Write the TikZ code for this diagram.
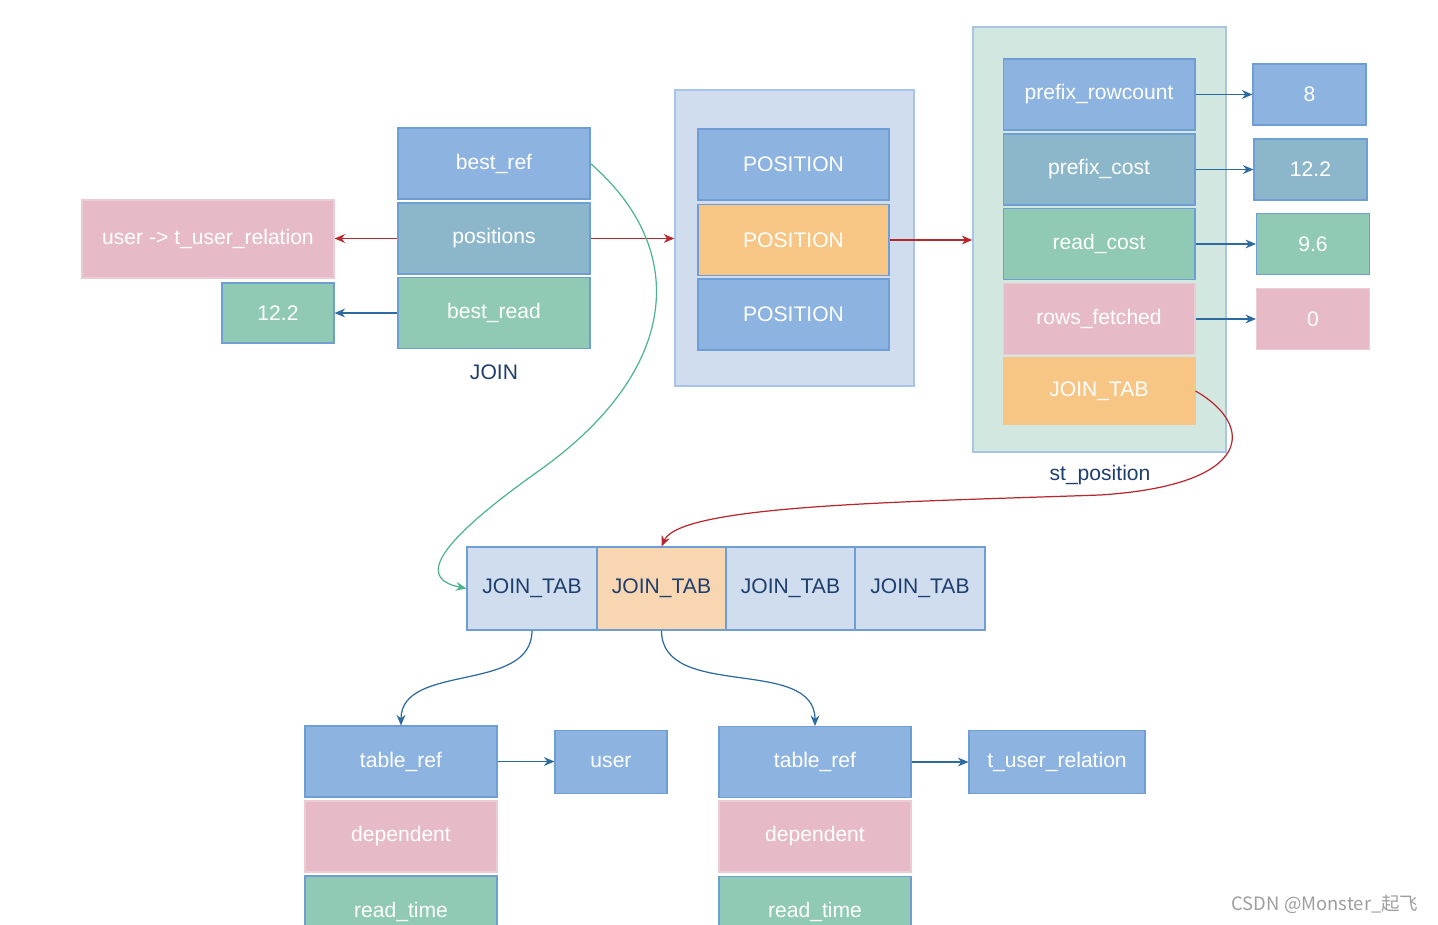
\documentclass[tikz,border=0pt]{standalone}
\usepackage{fontspec}
\setmainfont{Liberation Sans}
\newfontfamily\cjkfont{Noto Sans CJK SC}
\usetikzlibrary{arrows.meta}
\definecolor{cblue}{HTML}{8DB3E0}
\definecolor{cteal}{HTML}{8CB7CB}
\definecolor{cgreen}{HTML}{90C9B4}
\definecolor{cpink}{HTML}{E6BBC7}
\definecolor{corange}{HTML}{F7C584}
\definecolor{cedge}{HTML}{6F9ED4}
\definecolor{cpinkedge}{HTML}{EDCBD4}
\definecolor{cpale}{HTML}{D0DDEF}
\definecolor{cpeach}{HTML}{F9D6B2}
\definecolor{cmint}{HTML}{D3E7E1}
\definecolor{cframe}{HTML}{A8C4E6}
\definecolor{cred}{HTML}{B7282E}
\definecolor{carrow}{HTML}{2D6A9F}
\definecolor{cgreenline}{HTML}{4DB48C}
\definecolor{cdark}{HTML}{1E3E6E}
\tikzset{>={Stealth[length=6pt,width=5pt]}}
\tikzset{
	box/.style={draw=cedge, line width=0.6pt, text=white, inner sep=0pt,
		font=\fontsize{12}{15}\selectfont},
	field/.style={box, minimum width=3.84cm, minimum height=1.42cm},
	value/.style={box, minimum width=2.26cm, minimum height=1.22cm},
	cell/.style={box, text=cdark, fill=cpale, minimum width=2.6cm, minimum height=1.66cm},
	frame/.style={draw=cframe, line width=0.8pt},
	caption/.style={text=cdark, font=\fontsize{12}{15}\selectfont},
	redline/.style={->, cred, line width=0.7pt},
	blueline/.style={->, carrow, line width=0.7pt},
}

\begin{document}
\begin{tikzpicture}[x=0.02cm, y=-0.02cm]
	\useasboundingbox (0,0) rectangle (1438,924);
	\clip (0,0) rectangle (1438,924);
	% containers
	\node[frame, fill=cpale, minimum width=4.78cm, minimum height=5.92cm] (posbox) at (794.5,238) {};
	\node[frame, fill=cmint, minimum width=5.06cm, minimum height=8.5cm] (stbox) at (1099.5,239.5) {};

	% JOIN
	\node[field, fill=cblue] (bestref) at (494,163.5) {best\_ref};
	\node[field, fill=cteal] (positions) at (494,238.5) {positions};
	\node[field, fill=cgreen] (bestread) at (494,313) {best\_read};
	\node[caption] (join) at (494,372) {JOIN};
	\node[box, fill=cpink, draw=cpinkedge, minimum width=5.04cm, minimum height=1.56cm] (relation) at (208,239) {user -> t\_user\_relation};
	\node[box, fill=cgreen, minimum width=2.24cm, minimum height=1.2cm] (readval) at (278,313) {12.2};
	\draw[redline] (positions.west) -- (relation.east |- positions.west);
	\draw[blueline] (bestread.west) -- (readval.east |- bestread.west);

	% POSITION array
	\node[field, fill=cblue, minimum width=3.82cm] (pos1) at (793.5,164.5) {POSITION};
	\node[field, fill=corange, minimum width=3.82cm] (pos2) at (793.5,240) {POSITION};
	\node[field, fill=cblue, minimum width=3.82cm] (pos3) at (793.5,314.5) {POSITION};
	\draw[redline] (positions.east) -- (posbox.west |- positions.east);
	\draw[redline] (pos2.east) -- (stbox.west |- pos2.east);

	% st_position
	\node[field, fill=cblue] (rowcount) at (1099,94.5) {prefix\_rowcount};
	\node[field, fill=cteal] (prefixcost) at (1099,169.5) {prefix\_cost};
	\node[field, fill=cgreen] (readcost) at (1099,244) {read\_cost};
	\node[field, fill=cpink, draw=cpinkedge] (fetched) at (1099,319) {rows\_fetched};
	\node[field, fill=corange, draw=corange, minimum height=1.32cm] (stjt) at (1099,391) {JOIN\_TAB};
	\node[caption] (stlabel) at (1100,475) {st\_position};
	\node[value, fill=cblue] (v1) at (1309.5,94.5) {8};
	\node[value, fill=cteal] (v2) at (1310.5,169.5) {12.2};
	\node[value, fill=cgreen] (v3) at (1313,244) {9.6};
	\node[value, fill=cpink, draw=cpinkedge] (v4) at (1313,319) {0};
	\draw[blueline] (rowcount.east) -- (v1.west |- rowcount.east);
	\draw[blueline] (prefixcost.east) -- (v2.west |- prefixcost.east);
	\draw[blueline] (readcost.east) -- (v3.west |- readcost.east);
	\draw[blueline] (fetched.east) -- (v4.west |- fetched.east);

	% JOIN_TAB array
	\node[cell] (jt1) at (532,588.5) {JOIN\_TAB};
	\node[cell, fill=cpeach, minimum width=2.58cm] (jt2) at (661.5,588.5) {JOIN\_TAB};
	\node[cell, minimum width=2.58cm] (jt3) at (790.5,588.5) {JOIN\_TAB};
	\node[cell] (jt4) at (920,588.5) {JOIN\_TAB};
	\draw[->, cgreenline, line width=0.7pt] (bestref.east) .. controls (690,250) and (680,370) .. (540,470)
		.. controls (420,555) and (425,580) .. (jt1.west);
	\draw[redline] (stjt.east) .. controls (1255,425) and (1255,485) .. (1100,495)
		.. controls (900,502) and (680,505) .. (jt2.north);

	% table refs
	\node[field, fill=cblue] (tref1) at (401,761.5) {table\_ref};
	\node[field, fill=cpink, draw=cpinkedge] (dep1) at (401,836.5) {dependent};
	\node[field, fill=cgreen] (rtime1) at (401,911.5) {read\_time};
	\node[box, fill=cblue, minimum width=2.24cm, minimum height=1.26cm] (user) at (611,762) {user};
	\node[field, fill=cblue] (tref2) at (815,762) {table\_ref};
	\node[field, fill=cpink, draw=cpinkedge] (dep2) at (815,836.5) {dependent};
	\node[field, fill=cgreen] (rtime2) at (815,912) {read\_time};
	\node[box, fill=cblue, minimum width=3.52cm, minimum height=1.26cm] (tuser) at (1057,762) {t\_user\_relation};
	\draw[blueline] (jt1.south) to[out=-90, in=90] (tref1.north);
	\draw[blueline] (jt2.south) to[out=-90, in=90] (tref2.north);
	\draw[blueline] (tref1.east) -- (user.west |- tref1.east);
	\draw[blueline] (tref2.east) -- (tuser.west |- tref2.east);

	\node[text=black!38, font=\cjkfont\fontsize{10.5}{12}\selectfont] (mark) at (1325,904) {CSDN @Monster\_起飞};
\end{tikzpicture}
\end{document}
